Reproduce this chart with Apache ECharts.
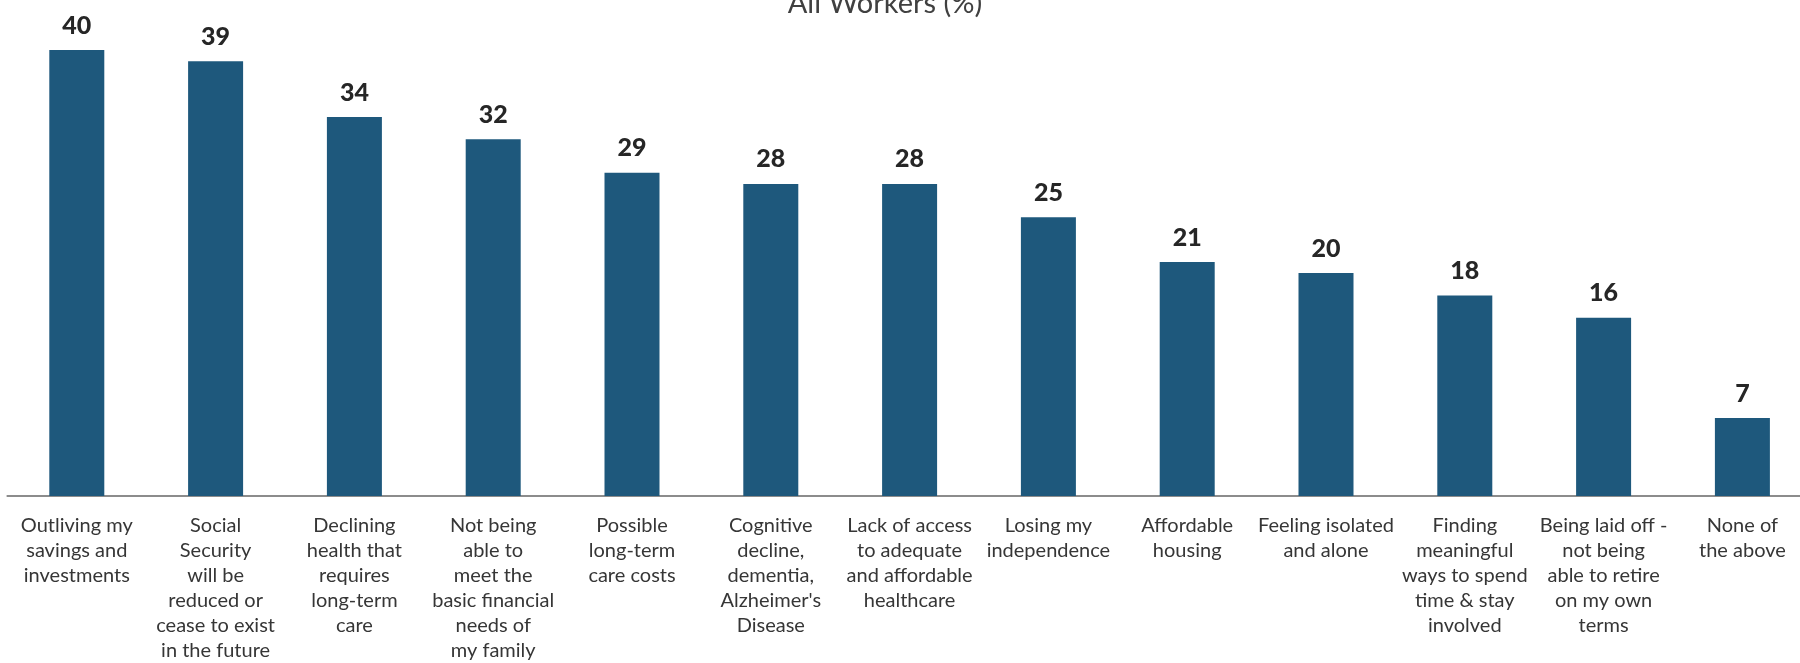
<!DOCTYPE html>
<html>
<head>
<meta charset="utf-8">
<script src="https://cdn.jsdelivr.net/npm/echarts@6/dist/echarts.min.js"></script>
<style>
  html, body { margin: 0; padding: 0; background: #ffffff; }
  #chart { width: 1800px; height: 663px; }
</style>
</head>
<body>
<div id="chart"></div>
<script>
// Retirement concerns among all workers, share answering each item (%)
const titleText = 'All Workers (%)';

const categories = [
  'Outliving my\nsavings and\ninvestments',
  'Social\nSecurity\nwill be\nreduced or\ncease to exist\nin the future',
  'Declining\nhealth that\nrequires\nlong-term\ncare',
  'Not being\nable to\nmeet the\nbasic financial\nneeds of\nmy family',
  'Possible\nlong-term\ncare costs',
  'Cognitive\ndecline,\ndementia,\nAlzheimer\'s\nDisease',
  'Lack of access\nto adequate\nand affordable\nhealthcare',
  'Losing my\nindependence',
  'Affordable\nhousing',
  'Feeling isolated\nand alone',
  'Finding\nmeaningful\nways to spend\ntime & stay\ninvolved',
  'Being laid off -\nnot being\nable to retire\non my own\nterms',
  'None of\nthe above'
];

const allWorkers = [40, 39, 34, 32, 29, 28, 28, 25, 21, 20, 18, 16, 7];

const chart = echarts.init(document.getElementById('chart'), null, { renderer: 'canvas' });

chart.setOption({
  animation: false,
  backgroundColor: '#ffffff',
  textStyle: { fontFamily: 'Lato' },
  // the plot runs slightly past the right edge of the page
  grid: {
    left: 7.4, width: 1804.4, top: 5.5, height: 490.6,
    containLabel: false,
    outerBoundsMode: 'none'
  },
  graphic: [{
    type: 'text',
    x: 885,
    y: 4,
    style: {
      text: titleText,
      font: '29px Lato',
      fill: '#404040',
      textAlign: 'center',
      textVerticalAlign: 'middle'
    }
  }],
  xAxis: {
    type: 'category',
    data: categories,
    axisLine: { show: true, lineStyle: { color: '#8c8c8c', width: 2 } },
    axisTick: { show: false },
    axisLabel: {
      interval: 0,
      margin: 17,
      color: '#363636',
      fontFamily: 'Lato',
      fontSize: 20,
      lineHeight: 25,
      align: 'center',
      verticalAlign: 'top'
    }
  },
  yAxis: {
    type: 'value',
    min: 0,
    max: 44,
    show: false,
    splitLine: { show: false }
  },
  series: [{
    name: titleText,
    type: 'bar',
    data: allWorkers,
    barWidth: 55,
    itemStyle: { color: '#1e587c' },
    label: {
      show: true,
      position: 'top',
      distance: 12,
      color: '#262626',
      fontFamily: 'Lato',
      fontWeight: 900,
      fontSize: 25
    }
  }]
});
</script>
</body>
</html>
